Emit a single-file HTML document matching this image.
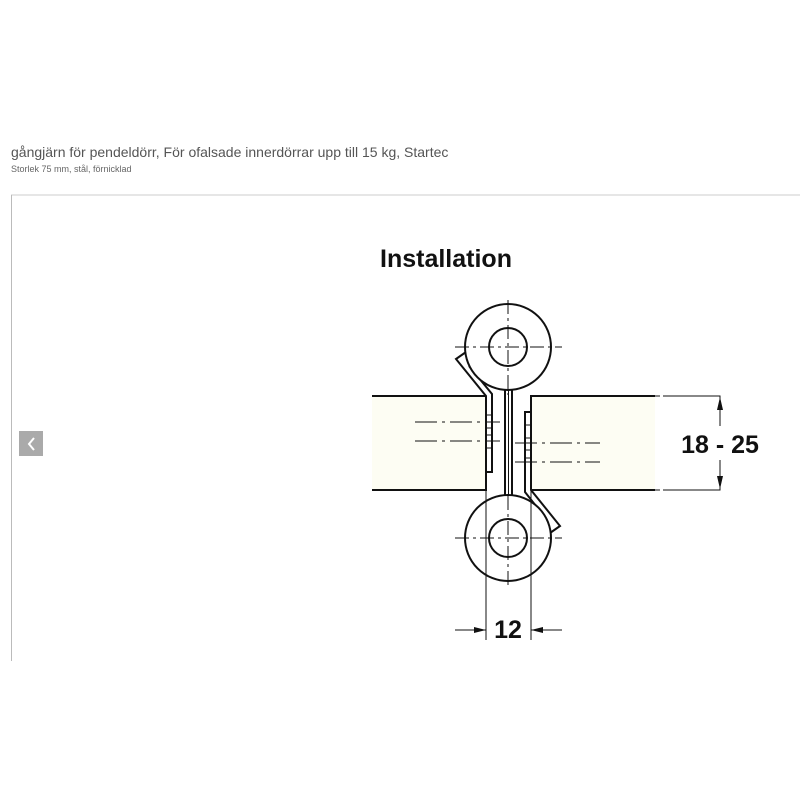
<!DOCTYPE html>
<html><head><meta charset="utf-8"><style>
body{margin:0;width:800px;height:800px;background:#fff;position:relative;overflow:hidden;font-family:"Liberation Sans",Arial,sans-serif}
.t1{position:absolute;left:11px;top:144px;font-size:14px;color:#555}
.t2{position:absolute;left:11px;top:164px;font-size:9px;color:#666}
</style></head><body>
<div class="t1">gångjärn för pendeldörr, För ofalsade innerdörrar upp till 15 kg, Startec</div>
<div class="t2">Storlek 75 mm, stål, förnicklad</div>
<svg width="800" height="800" style="position:absolute;left:0;top:0" xmlns="http://www.w3.org/2000/svg">
<line x1="11" y1="195" x2="800" y2="195" stroke="#ccc" stroke-width="1"/>
<line x1="11.5" y1="195" x2="11.5" y2="661" stroke="#bbb" stroke-width="1"/>
<rect x="19" y="431" width="24" height="25" fill="#aaa"/>
<path d="M34 438 L29 444 L34 450" fill="none" stroke="#fff" stroke-width="2"/>
<text x="446" y="267" font-size="25" font-weight="bold" text-anchor="middle" fill="#111">Installation</text>
<g stroke="#111" fill="none" stroke-width="2">
<!-- doors -->
<rect x="372" y="396" width="114" height="94" fill="#fdfdf3" stroke="none"/>
<rect x="531" y="396" width="124" height="94" fill="#fdfdf3" stroke="none"/>
<path d="M372 396 H486 V490 H372"/>
<path d="M655 396 H531 V490 H655"/>
<!-- leaves -->
<path d="M466 352 L456 359 L486 396 V472 H492 V394 L469 366" fill="#fff"/>
<path d="M550 533 L560 526 L531 490 V412 H525 V492 L547 520" fill="#fff"/>
<!-- pin -->
<rect x="505" y="385" width="7" height="115" fill="#fff"/>
<line x1="508.5" y1="385" x2="508.5" y2="500" stroke-width="1"/>
<!-- circles -->
<circle cx="508" cy="347" r="43" fill="#fff"/>
<circle cx="508" cy="347" r="19"/>
<circle cx="508" cy="538" r="43" fill="#fff"/>
<circle cx="508" cy="538" r="19"/>
</g>
<g stroke="#111" stroke-width="1" fill="none">
<!-- center lines -->
<path d="M508 300 V395 M508 496 V588 M455 347 H562 M455 538 H562" stroke-dasharray="14 4 3 4"/>
<path d="M415 422 H500 M415 441 H500 M515 443 H600 M515 462 H600" stroke-dasharray="22 5 3 5"/>
<!-- leaf ticks -->
<path d="M486 415 H492 M486 428 H492 M486 435 H492 M486 448 H492 M525 425 H531 M525 438 H531 M525 450 H531 M525 458 H531"/>
<!-- dims -->
<path d="M486 490 V640 M531 490 V640 M455 630 H486 M531 630 H562"/>
<path d="M663 396 H720 V426 M663 490 H720 V460 M655 396 H660 M655 490 H660"/>
</g>
<g fill="#111">
<path d="M486 630 L474 627 L474 633Z"/>
<path d="M531 630 L543 627 L543 633Z"/>
<path d="M720 397 L717 410 L723 410Z"/>
<path d="M720 489 L717 476 L723 476Z"/>
</g>
<text x="508" y="638" font-size="25" font-weight="bold" text-anchor="middle" fill="#111">12</text>
<text x="720" y="453" font-size="25" font-weight="bold" text-anchor="middle" fill="#111">18 - 25</text>
</svg>
</body></html>
